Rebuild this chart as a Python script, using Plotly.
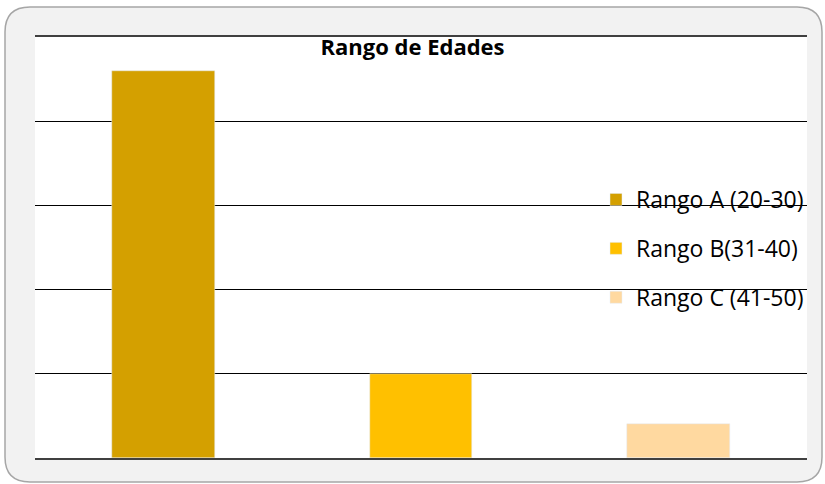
#chart of age ranges
import plotly.graph_objects as go

#data
categorias = ["Rango A (20-30)", "Rango B(31-40)", "Rango C (41-50)"]
valores = [23, 5, 2]
colores = ["#D4A000", "#FFC000", "#FFD9A0"]

fig = go.Figure()

#one trace per range so each gets its own legend entry
for i in range(len(categorias)):
    fig.add_trace(go.Bar(x=[i], y=[valores[i]], name=categorias[i],
                         marker_color=colores[i], width=0.4,
                         legendgroup=categorias[i]))

#helpers to turn pixel positions into paper coordinates
W, H = 772, 421
def px_x(p):
    return (p - 35) / W
def px_y(p):
    return (458 - p) / H

#rounded gray frame behind the chart
x0, x1 = px_x(5), px_x(822)
y0, y1 = px_y(482), px_y(7)
rx, ry = 25 / W, 25 / H
path = (f"M{x0+rx},{y1} L{x1-rx},{y1} Q{x1},{y1} {x1},{y1-ry} "
        f"L{x1},{y0+ry} Q{x1},{y0} {x1-rx},{y0} "
        f"L{x0+rx},{y0} Q{x0},{y0} {x0},{y0+ry} "
        f"L{x0},{y1-ry} Q{x0},{y1} {x0+rx},{y1} Z")
fig.add_shape(type="path", path=path, xref="paper", yref="paper",
              fillcolor="#F2F2F2", line=dict(color="#A6A6A6", width=1.5), layer="below")
#white plot area on top of the frame
fig.add_shape(type="rect", x0=0, x1=1, y0=0, y1=1, xref="paper", yref="paper",
              fillcolor="white", line=dict(width=0), layer="below")

fig.update_layout(
    title=dict(text="<b>Rango de Edades</b>", x=0.5, xanchor="center",
               y=1 - 47 / 484, yanchor="middle",
               font=dict(family="Open Sans", size=22, color="#000000")),
    width=825, height=484,
    margin=dict(l=35, r=18, t=37, b=26),
    paper_bgcolor="white", plot_bgcolor="rgba(0,0,0,0)",
    showlegend=True,
    legend=dict(x=px_x(596), y=px_y(178), xanchor="left", yanchor="top",
                bgcolor="rgba(0,0,0,0)", tracegroupgap=16,
                font=dict(family="Open Sans", size=23, color="#000000")),
    bargap=0,
)

#bottom axis line, mirrored on top
fig.update_xaxes(range=[-0.5, 2.5], showticklabels=False, showgrid=False, zeroline=False,
                 showline=True, linecolor="#404040", linewidth=2, mirror=True, ticks="")
fig.update_yaxes(range=[0, 25], dtick=5, showticklabels=False, showgrid=True,
                 gridcolor="#000000", gridwidth=1, zeroline=False, ticks="")

#remove the default page margin so the chart sits at the top-left corner
fig.write_html("out.html", config={"displayModeBar": False},
               post_script="document.body.style.margin='0';")
